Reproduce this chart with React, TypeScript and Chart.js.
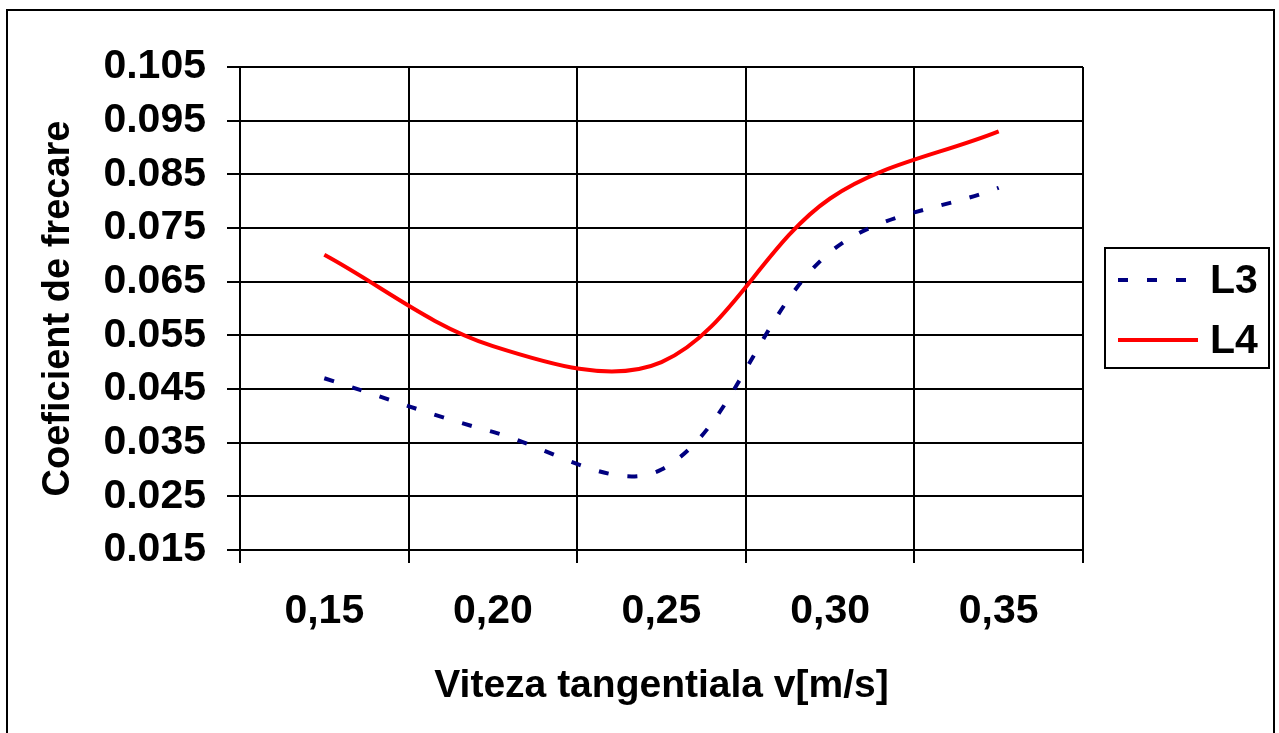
import React, { useEffect, useRef } from "react";
import { Chart, registerables } from "chart.js";
Chart.register(...registerables);

const categories = ["0,15", "0,20", "0,25", "0,30", "0,35"];
const seriesL3 = [0.047, 0.037, 0.030, 0.0705, 0.0825];
const seriesL4 = [0.070, 0.053, 0.050, 0.0805, 0.093];
const yTicks = [0.015, 0.025, 0.035, 0.045, 0.055, 0.065, 0.075, 0.085, 0.095, 0.105];
const seriesNames = ["L3", "L4"];
const xTitle = "Viteza tangentiala v[m/s]";
const yTitle = "Coeficient de frecare";

const FONT = "'Liberation Sans', Arial, sans-serif";
const CW = 1265;
const CH = 740;

const legendPlugin = {
  id: "boxLegend",
  afterDraw(chart: any) {
    const ctx = chart.ctx;
    const box = { x: 1097, y: 237, w: 164, h: 120 };
    ctx.save();
    ctx.lineWidth = 2;
    ctx.strokeStyle = "#000";
    ctx.strokeRect(box.x, box.y, box.w, box.h);
    chart.data.datasets.forEach((ds: any, i: number) => {
      const cy = box.y + 32 + i * 60;
      ctx.beginPath();
      ctx.setLineDash(ds.borderDash || []);
      ctx.lineWidth = 4;
      ctx.lineCap = "butt";
      ctx.strokeStyle = ds.borderColor;
      ctx.moveTo(box.x + 13, cy);
      ctx.lineTo(box.x + (ds.borderDash ? 85 : 93), cy);
      ctx.stroke();
      ctx.setLineDash([]);
      ctx.fillStyle = "#000";
      ctx.font = `bold 41px ${FONT}`;
      ctx.textBaseline = "middle";
      ctx.textAlign = "left";
      ctx.fillText(ds.label, box.x + 105, cy + 2);
    });
    ctx.restore();
  },
};

export default function App() {
  const ref = useRef<HTMLCanvasElement | null>(null);
  useEffect(() => {
    if (!ref.current) return;
    const chart = new Chart(ref.current, {
      type: "line",
      data: {
        labels: categories,
        datasets: [
          {
            label: seriesNames[0],
            data: seriesL3,
            borderColor: "#000080",
            borderWidth: 4,
            borderDash: [10, 19],
            pointRadius: 0,
            tension: 0.35,
            fill: false,
          },
          {
            label: seriesNames[1],
            data: seriesL4,
            borderColor: "#FF0000",
            borderWidth: 4,
            pointRadius: 0,
            tension: 0.35,
            fill: false,
          },
        ],
      },
      options: {
        animation: false,
        responsive: false,
        maintainAspectRatio: false,
        layout: { padding: { top: 56, right: CW - 1075, left: 0, bottom: 0 } },
        plugins: { legend: { display: false }, tooltip: { enabled: false } },
        scales: {
          x: {
            type: "category",
            offset: true,
            grid: { offset: true, color: "#000", lineWidth: 2, drawTicks: true, tickLength: 13 },
            border: { display: true, color: "#000", width: 2 },
            ticks: { color: "#000", font: { family: FONT, size: 41, weight: "bold" }, padding: 24, maxRotation: 0, autoSkip: false },
            title: { display: true, text: xTitle, color: "#000", font: { family: FONT, size: 39, weight: "bold" }, padding: { top: 0, bottom: 41 } },
            afterFit: (s: any) => { s.height = CH - 539; },
          },
          y: {
            type: "linear",
            min: 0.015,
            max: 0.105,
            afterBuildTicks: (s: any) => { s.ticks = yTicks.map((v) => ({ value: v })); },
            grid: { color: "#000", lineWidth: 2, drawTicks: true, tickLength: 13 },
            border: { display: true, color: "#000", width: 2 },
            ticks: { color: "#000", font: { family: FONT, size: 41, weight: "bold" }, padding: 21, callback: (v: any) => Number(v).toFixed(3) },
            title: { display: true, text: yTitle, color: "#000", font: { family: FONT, size: 38, weight: "bold" }, padding: { top: 28, bottom: 0 } },
            afterFit: (s: any) => { s.width = 232; },
          },
        },
      },
      plugins: [legendPlugin],
    } as any);
    return () => chart.destroy();
  }, []);
  return (
    <div style={{ position: "absolute", left: 6, top: 9, border: "2px solid #000", width: CW, height: CH, background: "#fff" }}>
      <canvas ref={ref} width={CW} height={CH} style={{ display: "block", width: CW, height: CH }} />
    </div>
  );
}
